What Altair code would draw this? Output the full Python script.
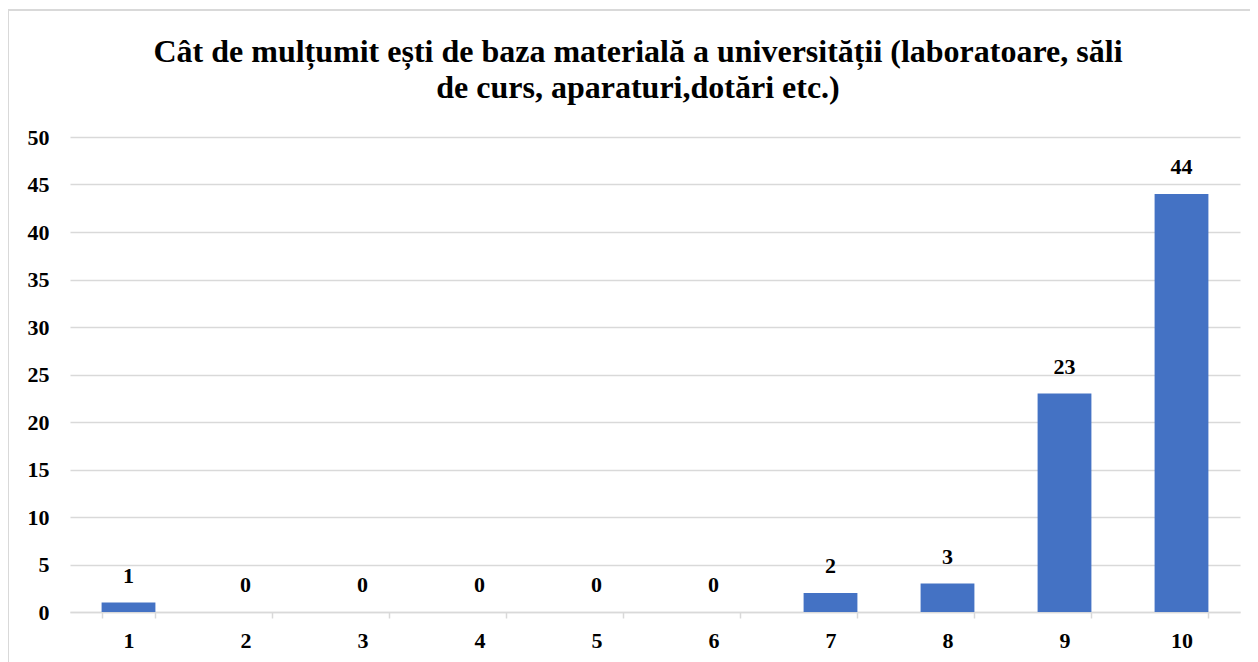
import altair as alt
import pandas as pd

categories = ["1", "2", "3", "4", "5", "6", "7", "8", "9", "10"]
counts = [1, 0, 0, 0, 0, 0, 2, 3, 23, 44]
y_ticks = [0, 5, 10, 15, 20, 25, 30, 35, 40, 45, 50]
title_lines = [
    "Cât de mulțumit ești de baza materială a universității (laboratoare, săli",
    "de curs, aparaturi,dotări etc.)",
]

df = pd.DataFrame({"cat": categories, "val": counts})
FONT = "Liberation Serif"

x_enc = alt.X(
    "cat:N", sort=categories, title=None,
    scale=alt.Scale(paddingInner=0.54, paddingOuter=0.27),
    axis=alt.Axis(labelAngle=0, labelFont=FONT, labelFontSize=22, labelFontWeight="bold",
                  labelColor="#000", labelPadding=12, tickBand="extent", tickSize=6,
                  tickColor="#d9d9d9", domainColor="#d9d9d9", tickWidth=1.5, domainWidth=1.5,
                  grid=False),
)
y_enc = alt.Y(
    "val:Q", title=None,
    scale=alt.Scale(domain=[0, 50], nice=False),
    axis=alt.Axis(values=y_ticks, labelFont=FONT, labelFontSize=22, labelFontWeight="bold",
                  labelColor="#000", labelPadding=21, ticks=False, domain=False,
                  gridColor="#d9d9d9", gridWidth=1.5),
)

bars = alt.Chart(df).mark_bar(color="#4472C4").encode(x=x_enc, y=y_enc)
labels = alt.Chart(df).mark_text(
    font=FONT, fontSize=22, fontWeight="bold", color="#000", baseline="bottom", dy=-15
).encode(x=alt.X("cat:N", sort=categories), y="val:Q", text="val:Q")

border = alt.Chart(df).mark_rect(fill=None, stroke="#d9d9d9", strokeWidth=2).encode(
    x=alt.value(-62), x2=alt.value(1240), y=alt.value(-127), y2=alt.value(560)
)

chart = alt.layer(border, bars, labels).properties(
    width=1170, height=475,
    title=alt.TitleParams(title_lines, font=FONT, fontSize=32, fontWeight="bold", color="#000",
                          anchor="middle", lineHeight=36, offset=0, dy=96, dx=-17),
    autosize=alt.AutoSizeParams(type="none"),
    padding={"left": 62, "top": 129, "right": 10, "bottom": 50},
).configure_view(stroke=None)

chart.save("out.html", embed_options={"renderer": "svg", "actions": False})
